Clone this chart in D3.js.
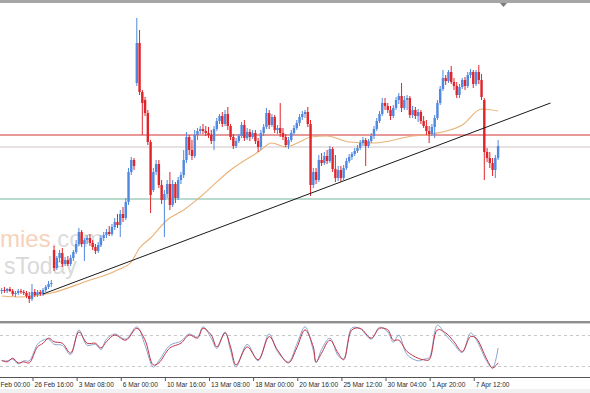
<!DOCTYPE html>
<html>
<head>
<meta charset="utf-8">
<script src="https://cdn.jsdelivr.net/npm/d3@7"></script>
<style>
  html, body { margin: 0; padding: 0; background: #fff; }
  svg { display: block; }
</style>
</head>
<body>
<div id="chart"></div>
<script>
// ------------------------------
// Data (4H candles, price in points)
// ------------------------------

const opens = [
  39,40,39,41,39,36,37,39,38,37,34,31,38,35,38,36,40,43,46,
  80,62,72,77,66,70,66,72,78,86,98,86,90,92,87,83,79,85,92,95,98,96,103,108,105,116,112,128,158,170,
  247,287,238,230,217,188,140,158,166,145,130,136,146,125,146,132,150,155,170,193,180,174,195,199,201,199,197,195,189,201,
  209,214,206,216,204,193,184,189,194,205,192,198,193,197,189,183,197,203,217,205,213,200,202,197,193,185,190,197,202,207,
  213,216,218,206,145,158,150,170,167,174,169,181,161,152,160,152,162,169,173,176,179,182,187,190,184,189,194,201,209,216,
  227,224,220,214,222,230,234,222,230,232,215,220,214,218,209,204,199,196,203,212,227,241,252,249,258,248,244,235,243,250,
  244,255,258,246,258,250,230,178,172,167,160,172
];
const highs = [
  42,43,42,43,41,39,41,41,40,39,38,46,41,40,40,42,45,49,50,
  84,74,80,82,73,74,75,80,90,102,100,92,95,96,90,86,88,95,98,101,104,106,112,116,120,123,132,162,173,172,
  312,300,240,233,220,190,162,170,170,150,140,150,158,150,148,153,158,180,198,195,190,200,202,204,206,204,203,200,204,212,
  216,218,220,223,206,196,192,196,208,210,202,201,200,200,192,200,206,222,220,216,215,205,227,202,196,193,200,205,210,216,
  219,220,223,210,162,162,175,177,178,180,184,183,175,164,164,165,172,176,178,182,185,190,193,192,191,197,204,212,219,232,
  232,227,224,225,233,237,247,234,235,234,224,223,221,220,214,210,204,206,215,230,244,260,255,260,264,252,248,246,252,253,
  258,261,260,260,265,256,232,182,178,172,175,190
];
const lows = [
  36,37,37,38,34,33,35,36,35,32,27,29,33,33,34,34,38,41,43,
  59,60,68,63,64,64,64,69,76,84,83,69,86,84,80,76,77,83,89,92,94,94,100,102,93,108,110,125,155,160,
  244,235,195,214,185,117,138,155,142,126,93,132,120,123,127,130,146,152,167,175,170,172,190,196,196,194,192,186,180,199,
  206,203,204,200,190,181,182,187,192,189,190,189,191,186,178,180,194,201,201,203,197,196,193,190,183,181,188,195,200,204,
  210,212,203,134,142,146,148,164,165,166,167,158,148,149,148,150,160,167,170,174,177,180,184,164,182,187,191,199,207,214,
  220,217,210,212,220,226,218,220,220,212,212,211,208,206,202,195,187,194,192,210,225,239,245,247,246,240,232,232,241,240,
  242,252,242,244,246,230,150,168,162,154,152,170
];
const closes = [
  40,39,41,39,36,37,39,38,37,34,31,38,35,38,36,40,43,46,47,
  62,72,77,66,70,66,72,78,86,98,86,90,92,87,83,79,85,92,95,98,96,103,108,105,116,112,128,158,170,164,
  287,238,227,217,188,135,158,166,145,130,136,146,125,146,132,150,155,170,193,180,174,195,199,201,199,197,195,189,201,209,
  214,206,216,204,193,184,189,194,205,192,198,193,197,189,183,197,203,217,205,213,200,202,197,193,185,190,197,202,207,213,
  216,218,206,145,158,150,170,167,174,169,181,161,152,160,152,162,169,173,176,179,182,187,190,184,189,194,201,209,216,227,
  224,220,214,222,230,234,222,230,232,215,220,214,218,209,204,199,196,203,212,227,241,252,249,258,248,244,235,243,250,244,
  255,258,246,258,250,233,178,172,167,160,172,184
];

// Moving average (bar index -> level)
const maBars = [0,7,11,18,30,42,47,50,54,60,66,72,83,93,98,103,108,112,118,126,135,149,156,167,174,180];
const maValues = [34,33,34,37,48,60,68,82,92,110,120,133,160,178,187,183,188,193,194,188,187,194,196,205,221,219];

// Horizontal levels and trend line (bar index, level)
const resistanceLevel = 195;
const pivotLevel = 183;
const supportLevel = 131;
const trendStart = [15, 36];
const trendEnd = [199, 227];

// Stochastic oscillator (main and signal), sampled along the bars
const stochBars = [0,2,4,6,8,10,13,15,17,19,22,25,28,31,34,36,38,41,45,49,52,55,57,61,65,68,71,73,76,78,81,83,85,89,93,97,100,104,107,110,113,114,116,119,122,124,127,130,134,137,140,142,144,147,151,153,155,158,161,164,167,170,172,176,178,180];
const stochMain = [30,30,33,24,30,30,62,70,72,62,60,42,90,60,62,52,72,82,72,96,60,18,30,60,68,82,76,96,74,54,86,50,18,62,30,82,48,28,62,96,50,26,52,74,40,34,94,92,72,95,86,66,80,42,30,33,36,99,80,62,46,84,72,28,16,55];
const stochSignal = [31,28,35,26,28,26,57,64,74,67,64,45,86,64,64,55,67,80,70,93,70,22,26,55,64,80,74,93,80,57,84,57,22,57,32,77,51,26,55,90,57,28,45,70,45,32,90,93,74,93,90,70,70,48,35,32,32,90,84,67,48,77,74,32,16,26];
const stochLevels = [20, 80];

// Time axis labels, one every 16 bars
const labelBars = [-5,11,27,43,59,75,91,107,123,139,155,171];
const timeLabels = ["24 Feb 00:00","26 Feb 16:00","3 Mar 08:00","6 Mar 00:00","10 Mar 16:00","13 Mar 08:00","18 Mar 00:00","20 Mar 16:00","25 Mar 12:00","30 Mar 04:00","1 Apr 20:00","7 Apr 12:00"];

// ------------------------------
// Main
// ------------------------------

const width = 590;
const height = 393;
const mainPanel = { top: 3, bottom: 321 };
const oscPanel = { top: 324, bottom: 377 };

const svg = d3.select("#chart").append("svg").attr("width", width).attr("height", height);

const x = d3.scaleLinear().domain([0, 180]).range([1.66, 498.1]);
const y = d3.scaleLinear().domain([0, 330]).range([330, 0]);
const yOsc = d3.scaleLinear().domain([0, 100]).range([376.3, 324.7]);

svg.append("rect").attr("width", width).attr("height", height).attr("fill", "#fff");

const defs = svg.append("defs");
defs.append("clipPath").attr("id", "mainClip")
  .append("rect").attr("x", 0).attr("y", mainPanel.top).attr("width", width).attr("height", mainPanel.bottom - mainPanel.top);
defs.append("clipPath").attr("id", "oscClip")
  .append("rect").attr("x", 0).attr("y", oscPanel.top).attr("width", width).attr("height", oscPanel.bottom - oscPanel.top);

drawWatermark();
drawMainPanel();
drawOscillator();
drawFrame();
drawTimeAxis();

// -----------------------------
// Helper Functions
// -----------------------------

// Faded logo behind the candles, as one text block
function drawWatermark() {
  const wm = svg.append("text")
    .attr("font-family", "Liberation Sans, Arial, sans-serif")
    .attr("x", 0).attr("y", 247);
  wm.append("tspan").attr("font-size", 24).attr("fill", "#f7d2ba").text("mies");
  wm.append("tspan").attr("font-size", 24).attr("fill", "#dcdcdc").text(".com");
  wm.append("tspan").attr("x", 4).attr("dy", 27).attr("font-size", 23).attr("fill", "#d9d9d9").text("sToday");
}

function drawMainPanel() {
  const g = svg.append("g").attr("clip-path", "url(#mainClip)");

  // Horizontal levels (slightly soft, like the screenshot)
  const levels = [
    { v: pivotLevel, color: "#d3c6c6" },
    { v: supportLevel, color: "#72b89b" },
    { v: resistanceLevel, color: "#d43333" },
  ];
  g.selectAll("line.level").data(levels).join("line")
    .attr("class", "level")
    .attr("x1", 0).attr("x2", width)
    .attr("y1", (d) => y(d.v))
    .attr("y2", (d) => y(d.v))
    .attr("stroke", (d) => d.color).attr("stroke-width", 1.15);

  // Moving average
  const maPoints = maBars.map((b, i) => [b, maValues[i]]);
  g.append("path").datum(maPoints)
    .attr("fill", "none").attr("stroke", "#eab174").attr("stroke-width", 1.1)
    .attr("d", d3.line().x((d) => x(d[0])).y((d) => y(d[1])).curve(d3.curveMonotoneX));

  // Candles
  const candles = opens.map((o, i) => ({ i, o, h: highs[i], l: lows[i], c: closes[i] }));
  const color = (d) => (d.c >= d.o ? "#4f88e0" : "#e0242a");

  g.selectAll("line.wick").data(candles).join("line")
    .attr("class", "wick")
    .attr("x1", (d) => x(d.i))
    .attr("x2", (d) => x(d.i))
    .attr("y1", (d) => y(d.h))
    .attr("y2", (d) => y(d.l))
    .attr("stroke", color).attr("stroke-width", 1);

  g.selectAll("rect.body").data(candles).join("rect")
    .attr("class", "body")
    .attr("x", (d) => x(d.i) - 1.2)
    .attr("y", (d) => y(Math.max(d.o, d.c)))
    .attr("width", 2.4)
    .attr("height", (d) => Math.max(1, Math.abs(y(d.o) - y(d.c))))
    .attr("fill", color);

  // Trend line
  g.append("line")
    .attr("x1", x(trendStart[0])).attr("y1", y(trendStart[1]))
    .attr("x2", x(trendEnd[0])).attr("y2", y(trendEnd[1]))
    .attr("stroke", "#1a1a1a").attr("stroke-width", 1);
}

function drawOscillator() {
  const g = svg.append("g").attr("clip-path", "url(#oscClip)");

  g.selectAll("line.osclevel").data(stochLevels).join("line")
    .attr("class", "osclevel")
    .attr("x1", 0).attr("x2", width)
    .attr("y1", (d) => Math.round(yOsc(d)) + 0.5)
    .attr("y2", (d) => Math.round(yOsc(d)) + 0.5)
    .attr("stroke", "#c8c8c8").attr("stroke-dasharray", "3,3");

  const line = d3.line().x((d) => x(d[0])).y((d) => yOsc(d[1])).curve(d3.curveCatmullRom.alpha(0.5));

  g.append("path").datum(stochBars.map((b, i) => [b, stochMain[i]]))
    .attr("fill", "none").attr("stroke", "#8aa6cf").attr("stroke-width", 1)
    .attr("d", line);

  g.append("path").datum(stochBars.map((b, i) => [b, stochSignal[i]]))
    .attr("fill", "none").attr("stroke", "#c2344a").attr("stroke-width", 1)
    .attr("d", line);
}

function drawFrame() {
  // Top border
  svg.append("rect").attr("x", 0).attr("y", 0).attr("width", width).attr("height", 3).attr("fill", "#a6a6a6");
  // Chart shift marker
  svg.append("path").attr("d", "M500,3 L507,3 L503.5,7 Z").attr("fill", "#7a7a7a");
  // Separator between price and oscillator panels
  svg.append("rect").attr("x", 0).attr("y", mainPanel.bottom).attr("width", width).attr("height", 2).attr("fill", "#8f8f8f");
  svg.append("line").attr("x1", 0).attr("x2", width).attr("y1", mainPanel.bottom + 2.5).attr("y2", mainPanel.bottom + 2.5)
    .attr("stroke", "#cfcfcf");
  // Bottom border of the oscillator
  svg.append("line").attr("x1", 0).attr("x2", width).attr("y1", oscPanel.bottom + 0.5).attr("y2", oscPanel.bottom + 0.5)
    .attr("stroke", "#555");
  // Light strip under the labels
  svg.append("rect").attr("x", 0).attr("y", 389).attr("width", width).attr("height", 4).attr("fill", "#f1f1f1");
}

function drawTimeAxis() {
  const axis = svg.append("g")
    .attr("transform", `translate(0,${oscPanel.bottom + 1})`)
    .call(
      d3.axisBottom(x)
        .tickValues(labelBars)
        .tickFormat((d, i) => timeLabels[i])
        .tickSize(3)
        .tickSizeOuter(0)
    );
  axis.select(".domain").remove();
  axis.selectAll(".tick line").attr("stroke", "#555").attr("transform", "translate(0.5,0)");
  axis.selectAll(".tick text")
    .attr("text-anchor", "start")
    .attr("x", 2)
    .attr("y", 4)
    .attr("dy", "0.71em")
    .attr("fill", "#2b2b2b")
    .attr("font-size", 6.6)
    .attr("font-family", "Liberation Sans, Arial, sans-serif");

  // A label whose tick lies left of the window only shows its tail, as in the screenshot
  axis.selectAll(".tick")
    .filter((d) => x(d) < 0)
    .select("text")
    .text((d) => timeLabels[labelBars.indexOf(d)].split(" ").slice(1).join(" "))
    .attr("x", -x(d3.min(labelBars)));
}
</script>
</body>
</html>
